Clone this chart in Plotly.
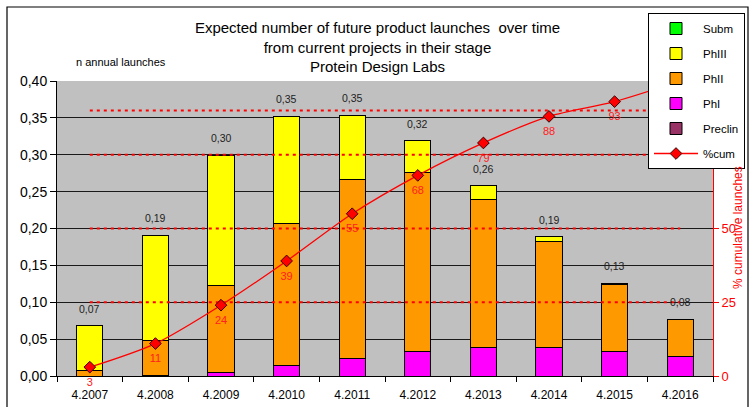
import plotly.graph_objects as go

# Launch years (quarter.year labels)
categories = ["4.2007", "4.2008", "4.2009", "4.2010", "4.2011",
              "4.2012", "4.2013", "4.2014", "4.2015", "4.2016"]

# Expected annual launches by development stage
preclin = [0, 0, 0, 0, 0, 0, 0, 0, 0, 0]
ph1 = [0.0, 0.001, 0.005, 0.0136, 0.0235, 0.033, 0.038, 0.038, 0.033, 0.026]
ph2 = [0.008, 0.047, 0.118, 0.1934, 0.243, 0.243, 0.202, 0.144, 0.091, 0.050]
ph3 = [0.060, 0.143, 0.176, 0.145, 0.087, 0.043, 0.018, 0.007, 0.002, 0.001]
subm = [0, 0, 0, 0, 0, 0, 0, 0, 0, 0]

# Cumulative share of launches (%)
cum_pct = [3, 11, 24, 39, 55, 68, 79, 88, 93, 100]

# Reference levels on the cumulative axis (%)
ref_levels = [25, 50, 75, 90]

FONT = "Liberation Sans, Arial, sans-serif"
RED = "#FF0000"

# plot-area geometry in pixels
W, H = 752, 407
ML, MR, MT, MB = 57, 39, 81, 31
PW, PH = W - ML - MR, H - MT - MB


def px_x(px):
    return (px - ML) / PW


def px_y(py):
    return (H - MB - py) / PH


fig = go.Figure()

stages = [
    ("Preclin", preclin, "#993366", 5),
    ("PhI", ph1, "#FF00FF", 4),
    ("PhII", ph2, "#FF9900", 3),
    ("PhIII", ph3, "#FFFF00", 2),
    ("Subm", subm, "#00FF00", 1),
]
for name, vals, color, rank in stages:
    fig.add_trace(go.Bar(
        x=categories, y=vals, name=name, legendrank=rank, legendgroup=name,
        marker=dict(color=color, line=dict(color="#000000", width=1)),
        hoverinfo="skip",
    ))

# dashed reference levels across the categories
for lvl in ref_levels:
    fig.add_trace(go.Scatter(
        x=categories, y=[lvl] * len(categories), yaxis="y2", mode="lines",
        line=dict(color=RED, width=2, dash="3px,4px"),
        showlegend=False, hoverinfo="skip",
    ))

fig.add_trace(go.Scatter(
    x=categories, y=cum_pct, yaxis="y2", name="%cum", legendrank=6,
    legendgroup="cum", mode="lines+markers",
    line=dict(color=RED, width=1.3, shape="spline", smoothing=0.8),
    marker=dict(symbol="diamond", size=9, color=RED,
                line=dict(color="#3a0000", width=1)),
    hoverinfo="skip",
))

# cumulative percentage labels below each point (transparent markers set the offset)
fig.add_trace(go.Scatter(
    x=categories, y=cum_pct, yaxis="y2", mode="markers+text",
    text=[str(c) for c in cum_pct], textposition="bottom center",
    textfont=dict(family=FONT, size=11, color="#FF2020"),
    marker=dict(size=15, color="rgba(0,0,0,0)"),
    showlegend=False, hoverinfo="skip", cliponaxis=False,
))

annotations = []
totals = [a + b + c + d + e for a, b, c, d, e in zip(preclin, ph1, ph2, ph3, subm)]
for i, tot in enumerate(totals):
    annotations.append(dict(
        x=i, y=tot, xref="x", yref="y", yshift=17, showarrow=False,
        text=f"{tot:.2f}".replace(".", ","),
        font=dict(family=FONT, size=10.5, color="#222222"),
    ))
annotations.append(dict(
    x=px_x(121), y=px_y(62), xref="paper", yref="paper", showarrow=False,
    xanchor="center", yanchor="middle",
    text="n annual launches", font=dict(family=FONT, size=11, color="#000000"),
))
annotations.append(dict(
    x=px_x(738), y=px_y(228), xref="paper", yref="paper", showarrow=False,
    xanchor="center", yanchor="middle", textangle=-90,
    text="% cumulative launches", font=dict(family=FONT, size=12, color=RED),
))

shapes = [dict(
    type="rect", xref="paper", yref="paper", layer="below",
    x0=px_x(7), x1=px_x(748), y0=px_y(415), y1=px_y(7),
    line=dict(color="#000000", width=1.2), fillcolor="rgba(0,0,0,0)",
)]

fig.update_layout(
    width=W, height=H,
    margin=dict(l=ML, r=MR, t=MT, b=MB, autoexpand=False),
    paper_bgcolor="#FFFFFF", plot_bgcolor="#C0C0C0",
    barmode="stack", bargap=0.6,
    separators=",.",
    font=dict(family=FONT, color="#000000"),
    title=dict(
        text="Expected number of future product launches  over time<br>"
             "from current projects in their stage<br>Protein Design Labs",
        x=0.502, xref="container", xanchor="center",
        y=1 - 33 / H, yref="container", yanchor="top",
        font=dict(family=FONT, size=15, color="#000000"),
    ),
    xaxis=dict(
        type="category", showgrid=False, showline=True, linecolor="#000000",
        linewidth=1, ticks="outside", tickson="boundaries", ticklen=5,
        tickcolor="#000000", tickfont=dict(family=FONT, size=12),
        ticklabelstandoff=8,
        range=[-0.5, len(categories) - 0.5],
    ),
    yaxis=dict(
        range=[0, 0.4], dtick=0.05, tickformat=".2f", showgrid=True,
        gridcolor="#1a1a1a", gridwidth=1, showline=True, linecolor="#000000",
        ticks="outside", ticklen=6, tickcolor="#000000",
        tickfont=dict(family=FONT, size=14), zeroline=False,
    ),
    yaxis2=dict(
        range=[0, 100], tickvals=[0, 25, 50, 75, 100], overlaying="y",
        side="right", showgrid=False, zeroline=False, showline=True,
        linecolor=RED, linewidth=1, ticks="outside", ticklen=5,
        tickcolor=RED, tickfont=dict(family=FONT, size=13, color=RED),
    ),
    legend=dict(
        x=648 / W, y=1 - 13 / H, xref="container", yref="container",
        xanchor="left", yanchor="top",
        bgcolor="#FFFFFF", bordercolor="#000000", borderwidth=1,
        font=dict(family=FONT, size=11.5, color="#000000"),
        traceorder="grouped", tracegroupgap=6, itemwidth=44,
    ),
    annotations=annotations,
    shapes=shapes,
    showlegend=True,
)

fig.write_html("out.html")
